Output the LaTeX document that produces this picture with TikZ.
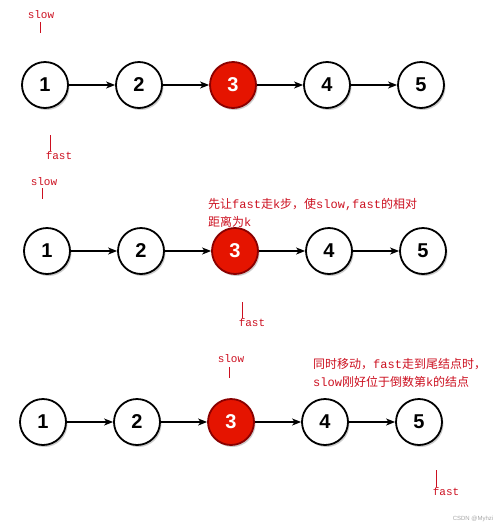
\documentclass[tikz,border=0pt]{standalone}
\usepackage{fontspec}
\usetikzlibrary{arrows.meta,shadows}
\newfontfamily\numfont{Liberation Sans}
\newfontfamily\monofont{Liberation Mono}
\newfontfamily\cjk{Noto Sans CJK SC}
\definecolor{nodered}{HTML}{E51400}
\definecolor{nodeline}{HTML}{8A0000}
\definecolor{notered}{HTML}{CC1020}
\tikzset{
  listnode/.style={circle,draw=black,line width=1.8pt,fill=white,minimum size=46pt,inner sep=0pt,
    font=\numfont\bfseries\fontsize{20}{20}\selectfont,
    drop shadow={shadow xshift=1.5pt,shadow yshift=-2pt,opacity=0.2,fill=black}},
  hitnode/.style={listnode,fill=nodered,draw=nodeline,text=white},
  link/.style={-{Stealth[length=9pt,width=7pt,inset=2.5pt]},line width=1.3pt},
  pointer/.style={draw=notered,line width=0.9pt},
  plabel/.style={text=notered,inner sep=0pt,font=\monofont\fontsize{11}{11}\selectfont},
  note/.style={text=notered,inner sep=0pt,align=left,anchor=north west,font=\monofont\fontsize{12}{18}\selectfont}
}
\begin{document}
\begin{tikzpicture}[x=1pt,y=-1pt]
\useasboundingbox (0,0) rectangle (500,528);
% first row: both pointers at the head
\node[listnode] (a1) at (45,85) {1};
\node[listnode] (a2) at (139,85) {2};
\node[hitnode]  (a3) at (233,85) {3};
\node[listnode] (a4) at (327,85) {4};
\node[listnode] (a5) at (421,85) {5};
\draw[link] (a1) -- (a2);
\draw[link] (a2) -- (a3);
\draw[link] (a3) -- (a4);
\draw[link] (a4) -- (a5);
\node[plabel] (slowa) at (41,15) {slow};
\draw[pointer] (40,22) -- (40,33); % slow tick
\draw[pointer] (50,135) -- (50,151); % fast tick
\node[plabel] (fasta) at (59,156) {fast};
% second row: fast goes k steps first
\node[listnode] (b1) at (47,251) {1};
\node[listnode] (b2) at (141,251) {2};
\node[hitnode]  (b3) at (235,251) {3};
\node[listnode] (b4) at (329,251) {4};
\node[listnode] (b5) at (423,251) {5};
\draw[link] (b1) -- (b2);
\draw[link] (b2) -- (b3);
\draw[link] (b3) -- (b4);
\draw[link] (b4) -- (b5);
\node[plabel] (slowb) at (44,182) {slow};
\draw[pointer] (42,188) -- (42,199); % slow tick
\node[note] (noteb) at (208,198) {{\cjk 先让}fast{\cjk 走}k{\cjk 步，使}slow,fast{\cjk 的相对}\\{\cjk 距离为}k};
\draw[pointer] (242,302) -- (242,318); % fast tick
\node[plabel] (fastb) at (252,323) {fast};
% third row: move together until fast reaches the tail
\node[listnode] (c1) at (43,422) {1};
\node[listnode] (c2) at (137,422) {2};
\node[hitnode]  (c3) at (231,422) {3};
\node[listnode] (c4) at (325,422) {4};
\node[listnode] (c5) at (419,422) {5};
\draw[link] (c1) -- (c2);
\draw[link] (c2) -- (c3);
\draw[link] (c3) -- (c4);
\draw[link] (c4) -- (c5);
\node[plabel] (slowc) at (231,359) {slow};
\draw[pointer] (229,367) -- (229,378); % slow tick
\node[note] (notec) at (313,358) {{\cjk 同时移动，}fast{\cjk 走到尾结点时，}\\slow{\cjk 刚好位于倒数第}k{\cjk 的结点}};
\draw[pointer] (436,470) -- (436,487); % fast tick
\node[plabel] (fastc) at (446,492) {fast};
\node[text=black!35,inner sep=0pt,font=\numfont\fontsize{6}{6}\selectfont] (mark) at (473,519) {CSDN @Myhzi};
\end{tikzpicture}
\end{document}
